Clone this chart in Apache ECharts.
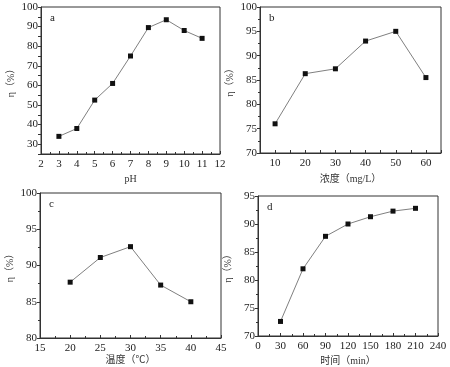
<!DOCTYPE html>
<html><head><meta charset="utf-8">
<script src="https://cdn.jsdelivr.net/npm/echarts@6/dist/echarts.min.js"></script>
<style>html,body{margin:0;padding:0;background:#fff}#c{width:450px;height:367px}</style>
</head><body><div id="c"></div>
<script>
const phX = [3,4,5,6,7,8,9,10,11];
const phY = [34,38,52.5,61,75,89.5,93.5,88,84];
const concX = [10,20,30,40,50,60];
const concY = [76,86.3,87.3,93,95,85.5];
const tempX = [20,25,30,35,40];
const tempY = [87.7,91.1,92.6,87.3,85];
const timeX = [30,60,90,120,150,180,210];
const timeY = [72.6,82,87.8,90,91.3,92.3,92.8];
const panelLetters = ['a','b','c','d'];
const xTitles = ['pH','浓度（mg/L）','温度（℃）','时间（min）'];
const yTitle = 'η（%）';

const serif = 'Liberation Serif, Times New Roman, serif';
const cjk = 'Liberation Serif, Noto Sans CJK SC';
const grids = [
  {left:41, top:7, width:179, height:147},
  {left:260, top:7, width:181, height:146},
  {left:40, top:193, width:181, height:145},
  {left:258, top:196, width:180, height:141}
];
const xCfg = [
  {min:2,max:12,interval:1,minor:2},
  {min:5,max:65,interval:5,labels:[10,20,30,40,50,60]},
  {min:15,max:45,interval:5,minor:2},
  {min:0,max:240,interval:30,minor:2}
];
const yCfg = [
  {min:25,max:100,interval:5,labels:[30,40,50,60,70,80,90,100]},
  {min:70,max:100,interval:5,minor:2},
  {min:80,max:100,interval:5,minor:2},
  {min:70,max:95,interval:5,minor:2}
];
const xData = [phX,concX,tempX,timeX];
const yData = [phY,concY,tempY,timeY];
const nameGapX = [20,21,16,20];

function mkAxis(c, isX, i){
  const a = {
    type:'value', gridIndex:i, min:c.min, max:c.max, interval:c.interval,
    axisLine:{show:true,onZero:false,lineStyle:{color:'#333',width:1}},
    axisTick:{show:true,inside:isX,length:3,lineStyle:{color:'#333'}},
    minorTick:{show:!!c.minor,splitNumber:c.minor||5,length:2,lineStyle:{color:'#333'}},
    splitLine:{show:false},
    axisLabel:{color:'#222',fontFamily:serif,fontSize:11,margin:isX?5:3},
    name: isX ? xTitles[i] : yTitle,
    nameLocation:'middle',
    nameGap: isX ? nameGapX[i] : 25,
    nameTextStyle:{color:'#333',fontFamily:cjk,fontSize:10}
  };
  if(c.labels){ a.axisLabel.customValues = c.labels; }
  return a;
}

const option = {
  animation:false,
  backgroundColor:'#fff',
  grid: grids.map(g=>Object.assign({show:true,borderColor:'#333',borderWidth:1,backgroundColor:'transparent'},g)),
  xAxis: xCfg.map((c,i)=>mkAxis(c,true,i)),
  yAxis: yCfg.map((c,i)=>mkAxis(c,false,i)),
  series: xData.map((xs,i)=>({
    type:'line', xAxisIndex:i, yAxisIndex:i,
    data: xs.map((x,j)=>[x,yData[i][j]]),
    symbol:'rect', symbolSize:5,
    itemStyle:{color:'#111'},
    lineStyle:{color:'#808080',width:1}
  })),
  graphic: panelLetters.map((t,i)=>({
    type:'text', left:grids[i].left+9, top:grids[i].top+6,
    style:{text:t,font:'11px '+serif,fill:'#222'}
  }))
};
echarts.init(document.getElementById('c')).setOption(option);
</script></body></html>
